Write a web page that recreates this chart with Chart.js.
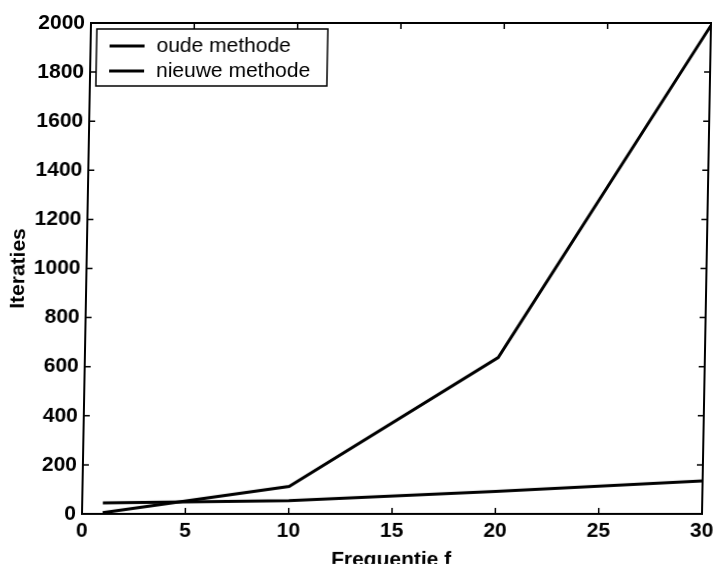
<!DOCTYPE html>
<html>
<head>
<meta charset="utf-8">
<script src="https://cdn.jsdelivr.net/npm/chart.js@4"></script>
<style>
  body { margin: 0; background: #fff; }
  #chart { display: block; transform: skewX(-1.05deg); transform-origin: 0 514px; }
</style>
</head>
<body>
<canvas id="chart" width="714" height="564"></canvas>
<script>
// frequencies on the x axis
const frequencies = [1, 10, 20, 30];
// iterations per method
const oudeMethode = [5, 112, 637, 1990];
const nieuweMethode = [45, 54, 92, 134];
const seriesNames = ['oude methode', 'nieuwe methode'];
const xTicks = [0, 5, 10, 15, 20, 25, 30];
const yTicks = [0, 200, 400, 600, 800, 1000, 1200, 1400, 1600, 1800, 2000];

const FONT = '"Liberation Sans", Arial, Helvetica, sans-serif';

// MATLAB style box with inward ticks and a boxed legend inside the plot
const frame = {
    id: 'frame',
    afterDraw(chart) {
        const ctx = chart.ctx;
        const a = chart.chartArea;
        const x = chart.scales.x, y = chart.scales.y;
        ctx.save();
        ctx.strokeStyle = '#000';
        ctx.lineWidth = 1.5;
        ctx.beginPath();
        x.ticks.forEach(t => {
            const px = x.getPixelForValue(t.value);
            ctx.moveTo(px, a.bottom); ctx.lineTo(px, a.bottom - 6);
            ctx.moveTo(px, a.top); ctx.lineTo(px, a.top + 6);
        });
        y.ticks.forEach(t => {
            const py = y.getPixelForValue(t.value);
            ctx.moveTo(a.left, py); ctx.lineTo(a.left + 6, py);
            ctx.moveTo(a.right, py); ctx.lineTo(a.right - 6, py);
        });
        ctx.stroke();
        ctx.lineWidth = 2;
        ctx.strokeRect(a.left, a.top, a.right - a.left, a.bottom - a.top);

        // legend
        const bx = a.left + 6, by = a.top + 6, bw = 231, bh = 57;
        ctx.fillStyle = '#fff';
        ctx.fillRect(bx, by, bw, bh);
        ctx.lineWidth = 1.5;
        ctx.strokeRect(bx, by, bw, bh);
        ctx.font = '21px ' + FONT;
        ctx.fillStyle = '#000';
        ctx.textBaseline = 'middle';
        chart.data.datasets.forEach((ds, i) => {
            const ly = by + 17 + i * 25;
            ctx.lineWidth = 3;
            ctx.beginPath();
            ctx.moveTo(bx + 13, ly);
            ctx.lineTo(bx + 48, ly);
            ctx.stroke();
            ctx.fillText(ds.label, bx + 60, ly);
        });
        ctx.restore();
    }
};

new Chart(document.getElementById('chart'), {
    type: 'line',
    data: {
        datasets: [
            {
                label: seriesNames[0],
                data: frequencies.map((f, i) => ({x: f, y: oudeMethode[i]})),
                borderColor: '#000',
                borderWidth: 3,
                pointRadius: 0,
                tension: 0
            },
            {
                label: seriesNames[1],
                data: frequencies.map((f, i) => ({x: f, y: nieuweMethode[i]})),
                borderColor: '#000',
                borderWidth: 3,
                pointRadius: 0,
                tension: 0
            }
        ]
    },
    plugins: [frame],
    options: {
        responsive: false,
        animation: false,
        devicePixelRatio: 1,
        layout: { padding: { left: 0, top: 23, right: 12, bottom: 0 } },
        plugins: { legend: { display: false }, tooltip: { enabled: false } },
        scales: {
            x: {
                type: 'linear',
                min: 0,
                max: 30,
                afterBuildTicks: s => { s.ticks = xTicks.map(v => ({value: v})); },
                afterFit: s => { s.height = 50; s.paddingLeft = 0; s.paddingRight = 0; },
                grid: { display: false, drawTicks: false },
                border: { display: false },
                ticks: {
                    color: '#000', padding: 5, maxRotation: 0,
                    callback: v => String(v),
                    font: { family: FONT, size: 21, weight: 'bold' }
                },
                title: {
                    display: true,
                    text: 'Frequentie f',
                    color: '#000',
                    padding: { top: 0, bottom: -9 },
                    font: { family: FONT, size: 21, weight: 'bold' }
                }
            },
            y: {
                min: 0,
                max: 2000,
                afterBuildTicks: s => { s.ticks = yTicks.map(v => ({value: v})); },
                afterFit: s => { s.width = 82; },
                grid: { display: false, drawTicks: false },
                border: { display: false },
                ticks: {
                    color: '#000', padding: 6,
                    callback: v => String(v),
                    font: { family: FONT, size: 21, weight: 'bold' }
                },
                title: {
                    display: true,
                    text: 'Iteraties',
                    color: '#000',
                    padding: { top: 2, bottom: 0 },
                    font: { family: FONT, size: 21, weight: 'bold' }
                }
            }
        }
    }
});
</script>
</body>
</html>
